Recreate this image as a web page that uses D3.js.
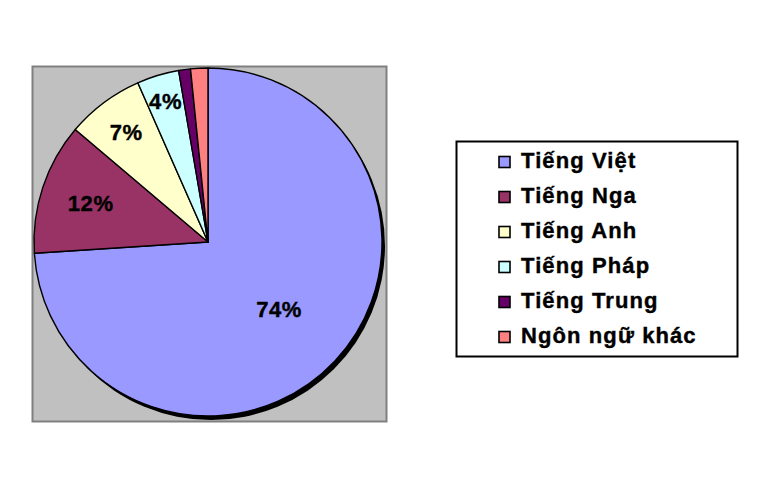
<!DOCTYPE html>
<html><head><meta charset="utf-8">
<script src="https://cdn.jsdelivr.net/npm/d3@7"></script>
<style>body{margin:0;background:#fff;} svg{display:block;}</style>
</head><body>
<svg id="c" width="770" height="503"></svg>
<script>
const categories = ["Tiếng Việt","Tiếng Nga","Tiếng Anh","Tiếng Pháp","Tiếng Trung","Ngôn ngữ khác"];
const values = [73.9, 12.2, 7.2, 3.9, 1.1, 1.6];
const labels = ["74%","12%","7%","4%","",""];
const colors = ["#9999FF","#993366","#FFFFCC","#CCFFFF","#660066","#FF8080"];

const svg = d3.select("#c");
const font = "'Liberation Sans', Arial, sans-serif";

// plot area
svg.append("rect").attr("x",32.5).attr("y",66.5).attr("width",354).attr("height",355)
  .attr("fill","#C0C0C0").attr("stroke","#808080").attr("stroke-width",2);

const cx = 208, cy = 242, r = 174;
const pie = d3.pie().sort(null).value(d=>d)(values);
const arc = d3.arc().innerRadius(0).outerRadius(r);
const g = svg.append("g").attr("transform",`translate(${cx},${cy})`);

// shadow
g.append("circle").attr("cx",3).attr("cy",4).attr("r",r).attr("fill","#000");

g.selectAll("path.s").data(pie).enter().append("path").attr("class","s")
  .attr("d",arc).attr("fill",(d,i)=>colors[i]).attr("stroke","#000").attr("stroke-width",1.4)
  .attr("stroke-linejoin","round");

const labelFactor = [0.56, 0.71, 0.785, 0.845, 0.9, 0.9];
g.selectAll("text.l").data(pie).enter().append("text").attr("class","l")
  .attr("transform",(d,i)=>{
    const a = (d.startAngle+d.endAngle)/2;
    const rr = r*labelFactor[i];
    return `translate(${rr*Math.sin(a)},${-rr*Math.cos(a)})`;
  })
  .attr("text-anchor","middle").attr("dy","0.36em")
  .attr("font-family",font).attr("font-weight","bold").attr("font-size",22)
  .attr("letter-spacing",0.6).attr("fill","#000").attr("stroke","#000").attr("stroke-width",0.4)
  .text((d,i)=>labels[i]);

// legend
svg.append("rect").attr("x",456.5).attr("y",141.5).attr("width",281).attr("height",215)
  .attr("fill","#fff").attr("stroke","#000").attr("stroke-width",2);
const ly = d3.scalePoint().domain(categories).range([161,336]);
const lg = svg.append("g").selectAll("g").data(categories).enter().append("g")
  .attr("transform",d=>`translate(0,${ly(d)})`);
lg.append("rect").attr("x",499).attr("y",-4.5).attr("width",11).attr("height",11)
  .attr("fill",(d,i)=>colors[i]).attr("stroke","#000").attr("stroke-width",1.6);
lg.append("text").attr("x",521).attr("y",7)
  .attr("font-family",font).attr("font-weight","bold").attr("font-size",22)
  .attr("letter-spacing",1.1).attr("fill","#000").attr("stroke","#000").attr("stroke-width",0.4)
  .text(d=>d);
</script>
</body></html>
